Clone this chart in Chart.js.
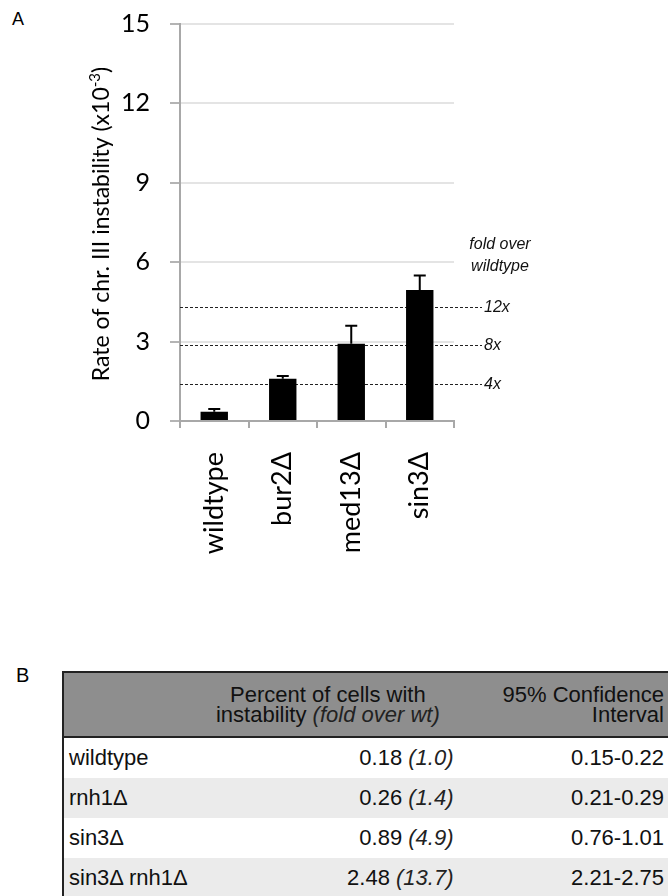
<!DOCTYPE html>
<html>
<head>
<meta charset="utf-8">
<script src="https://cdn.jsdelivr.net/npm/chart.js@4/dist/chart.umd.min.js"></script>
<style>
  html, body { margin: 0; padding: 0; background: #fff; width: 668px; height: 896px; overflow: hidden; position: relative; }
  #chartBox { position: absolute; left: 0; top: 0; width: 668px; height: 640px; }
  .panel { position: absolute; font-family: "Liberation Sans", Arial, sans-serif; color: #000; }
  #tbl { position: absolute; left: 62px; top: 671px; border-collapse: collapse; font-family: "Liberation Sans", Arial, sans-serif; font-size: 22px; color: #111; table-layout: fixed; }
  #tbl th { background: #8e8e8e; font-weight: normal; height: 63px; line-height: 20px; padding: 0 4px; vertical-align: middle; }
  #tbl td { height: 40px; padding: 0 4px; vertical-align: middle; line-height: 22px; }
  #tbl tr.alt td { background: #ebebeb; }
  #tbl thead tr { border-top: 2px solid #222; border-bottom: 2px solid #222; }
  #tbl { border-left: 2px solid #222; }
  #tbl i { color: #222; }
</style>
</head>
<body>
<div class="panel" style="left:12px; top:9px; font-size:18px;">A</div>
<div class="panel" style="left:16px; top:664px; font-size:20px;">B</div>
<div id="chartBox"><canvas id="c" width="668" height="640"></canvas></div>
<table id="tbl">
  <colgroup><col style="width:136px"><col style="width:262px"><col style="width:212px"></colgroup>
  <thead><tr>
    <th></th>
    <th style="text-align:center;">Percent of cells with<br>instability <i>(fold over wt)</i></th>
    <th style="text-align:right;">95% Confidence<br>Interval</th>
  </tr></thead>
  <tbody id="tbody"></tbody>
</table>
<script>
// ---- Panel A data ----
const categories = ['wildtype', 'bur2\u0394', 'med13\u0394', 'sin3\u0394'];
const rates = [0.35, 1.60, 2.92, 4.95];
const rateErrors = [0.10, 0.10, 0.68, 0.55];
const yTickValues = [0, 3, 6, 9, 12, 15];
const foldLabels = ['4x', '8x', '12x'];
const foldLevels = [1.41, 2.87, 4.32];

// ---- Panel B data ----
const strains = ['wildtype', 'rnh1\u0394', 'sin3\u0394', 'sin3\u0394 rnh1\u0394'];
const percentCells = ['0.18', '0.26', '0.89', '2.48'];
const foldOverWt = ['1.0', '1.4', '4.9', '13.7'];
const confInterval = ['0.15-0.22', '0.21-0.29', '0.76-1.01', '2.21-2.75'];

// build table
const tbody = document.getElementById('tbody');
strains.forEach((s, i) => {
  const tr = document.createElement('tr');
  if (i % 2 === 1) tr.className = 'alt';
  tr.innerHTML = '<td style="text-align:left;padding-left:5px;">' + s + '</td>' +
    '<td style="text-align:right;">' + percentCells[i] + ' <i>(' + foldOverWt[i] + ')</i></td>' +
    '<td style="text-align:right;">' + confInterval[i] + '</td>';
  tbody.appendChild(tr);
});

const overlay = {
  id: 'overlay',
  beforeDatasetsDraw(chart) {
    const ctx = chart.ctx, y = chart.scales.y, area = chart.chartArea;
    ctx.save();
    ctx.strokeStyle = '#222';
    ctx.lineWidth = 1;
    ctx.setLineDash([3, 2]);
    foldLevels.forEach(v => {
      const py = Math.round(y.getPixelForValue(v)) + 0.5;
      ctx.beginPath();
      ctx.moveTo(area.left, py);
      ctx.lineTo(area.right + 28, py);
      ctx.stroke();
    });
    ctx.restore();
  },
  afterDatasetsDraw(chart) {
    const ctx = chart.ctx, y = chart.scales.y, area = chart.chartArea;
    const meta = chart.getDatasetMeta(0);
    ctx.save();
    // error bars
    ctx.strokeStyle = '#000';
    ctx.lineWidth = 2;
    meta.data.forEach((bar, i) => {
      const top = y.getPixelForValue(rates[i] + rateErrors[i]);
      ctx.beginPath();
      ctx.moveTo(bar.x, bar.y);
      ctx.lineTo(bar.x, top);
      ctx.moveTo(bar.x - 6, top);
      ctx.lineTo(bar.x + 6, top);
      ctx.stroke();
    });
    // fold labels
    ctx.fillStyle = '#111';
    ctx.font = 'italic 16px "Liberation Sans", Arial, sans-serif';
    ctx.textBaseline = 'middle';
    ctx.textAlign = 'left';
    foldLevels.forEach((v, i) => {
      ctx.fillText(foldLabels[i], area.right + 30, y.getPixelForValue(v) + 1);
    });
    ctx.textAlign = 'center';
    ctx.fillText('fold over', area.right + 46, 245);
    ctx.fillText('wildtype', area.right + 46, 267);
    // y axis title with superscript
    const main = 'Rate of chr. III instability (x10';
    const sup = '-3';
    const close = ')';
    const f1 = '23px Lato, sans-serif', f2 = '15px Lato, sans-serif';
    ctx.font = f1; const w1 = ctx.measureText(main).width; const w3 = ctx.measureText(close).width;
    ctx.font = f2; const w2 = ctx.measureText(sup).width;
    const total = w1 + w2 + w3;
    ctx.translate(102, 224);
    ctx.rotate(-Math.PI / 2);
    ctx.fillStyle = '#000';
    ctx.textAlign = 'left';
    ctx.textBaseline = 'middle';
    let x0 = -total / 2;
    ctx.font = f1; ctx.fillText(main, x0, 0);
    ctx.font = f2; ctx.fillText(sup, x0 + w1, -7);
    ctx.font = f1; ctx.fillText(close, x0 + w1 + w2, 0);
    ctx.restore();
  }
};

new Chart(document.getElementById('c'), {
  type: 'bar',
  data: {
    labels: categories,
    datasets: [{
      data: rates,
      backgroundColor: '#000',
      borderWidth: 0,
      barPercentage: 0.4,
      categoryPercentage: 1.0
    }]
  },
  options: {
    responsive: false,
    maintainAspectRatio: false,
    devicePixelRatio: 1,
    animation: false,
    layout: { autoPadding: false, padding: { top: 24, right: 214, left: 0, bottom: 0 } },
    plugins: { legend: { display: false }, tooltip: { enabled: false } },
    scales: {
      x: {
        grid: { display: true, drawOnChartArea: false, offset: true, tickLength: 7, color: '#a8a8a8', lineWidth: 2 },
        border: { color: '#a8a8a8', width: 2 },
        ticks: {
          minRotation: 90, maxRotation: 90, padding: 24, autoSkip: false,
          color: '#000', font: { family: 'Lato', size: 27 }
        },
        afterFit(scale) { scale.height = 219; scale.paddingLeft = 0; scale.paddingRight = 0; }
      },
      y: {
        min: 0, max: 15,
        afterBuildTicks(scale) { scale.ticks = yTickValues.map(v => ({ value: v })); },
        grid: { color: '#e4e4e4', lineWidth: 2, tickLength: 10, tickColor: '#b4b4b4' },
        border: { color: '#a8a8a8', width: 2 },
        ticks: { padding: 20, color: '#000', font: { family: 'Lato', size: 25 } },
        afterFit(scale) { scale.width = 180; scale.paddingTop = 0; scale.paddingBottom = 0; }
      }
    }
  },
  plugins: [overlay]
});
</script>
</body>
</html>
